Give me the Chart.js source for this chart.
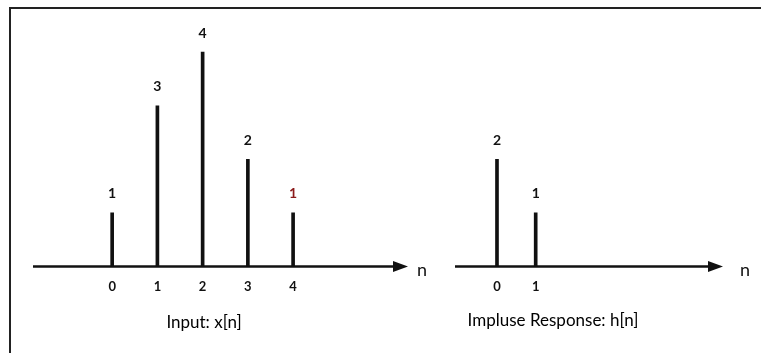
<!DOCTYPE html>
<html>
<head>
<meta charset="utf-8">
<script src="https://cdn.jsdelivr.net/npm/chart.js@4/dist/chart.umd.min.js"></script>
<style>
  body { margin: 0; background: #fff; }
  #wrap { position: relative; width: 761px; height: 353px; overflow: hidden; }
  #frame { position: absolute; left: 9px; top: 7px; width: 800px; height: 400px;
           border-top: 2px solid #222; border-left: 2px solid #222; }
  canvas { position: absolute; top: 0; }
  .caption { position: absolute; font-family: Lato, sans-serif; font-size: 17px;
             color: #000; transform: translateX(-50%); white-space: nowrap; }
</style>
</head>
<body>
<div id="wrap">
  <div id="frame"></div>
  <canvas id="inputChart" width="440" height="353" style="left:0"></canvas>
  <canvas id="impulseChart" width="321" height="353" style="left:440px"></canvas>
  <div class="caption" style="left:204px; top:311px">Input: x[n]</div>
  <div class="caption" style="left:553px; top:309px">Impluse Response: h[n]</div>
</div>
<script>
// input signal x[n]
const inputN = [0, 1, 2, 3, 4];
const inputValues = [1, 3, 4, 2, 1];
const inputLabelColors = ["#111", "#111", "#111", "#111", "#8b1a1a"];

// impulse response h[n]
const impulseN = [0, 1];
const impulseValues = [2, 1];
const impulseLabelColors = ["#111", "#111"];

// draws the n-axis with an arrow, the "n" label and the value above each stem
const stemPlugin = {
    id: "stems",
    beforeDatasetsDraw(chart) {
        const { ctx, chartArea } = chart;
        const y0 = chart.scales.y.getPixelForValue(0);
        ctx.save();
        ctx.strokeStyle = "#111";
        ctx.fillStyle = "#111";
        ctx.lineWidth = 2.5;
        ctx.beginPath();
        ctx.moveTo(chartArea.left, y0);
        ctx.lineTo(chartArea.right - 10, y0);
        ctx.stroke();
        ctx.beginPath();
        ctx.moveTo(chartArea.right, y0);
        ctx.lineTo(chartArea.right - 15, y0 - 5.5);
        ctx.lineTo(chartArea.right - 15, y0 + 5.5);
        ctx.closePath();
        ctx.fill();
        ctx.font = "18px Lato, sans-serif";
        ctx.textAlign = "center";
        ctx.textBaseline = "middle";
        ctx.fillText("n", chartArea.right + chart.options.plugins.stems.nGap, y0 + 4);
        ctx.restore();
    },
    afterDatasetsDraw(chart) {
        const { ctx } = chart;
        const opts = chart.options.plugins.stems;
        const meta = chart.getDatasetMeta(0);
        ctx.save();
        ctx.font = "bold 14px Lato, sans-serif";
        ctx.textAlign = "center";
        ctx.textBaseline = "middle";
        meta.data.forEach((bar, i) => {
            ctx.fillStyle = opts.colors[i];
            ctx.fillText(String(chart.data.datasets[0].data[i].y), bar.x, bar.y - 19);
        });
        ctx.restore();
    }
};

function stemChart(id, nValues, values, colors, xMin, xMax, padding, nGap) {
    const ctx = document.getElementById(id).getContext("2d");
    return new Chart(ctx, {
        type: "bar",
        data: {
            datasets: [{
                data: nValues.map((n, i) => ({ x: n, y: values[i] })),
                backgroundColor: "#111",
                borderWidth: 0,
                barThickness: 3,
            }],
        },
        options: {
            responsive: false,
            animation: false,
            layout: { padding: padding },
            plugins: {
                legend: { display: false },
                tooltip: { enabled: false },
                stems: { colors: colors, nGap: nGap },
            },
            scales: {
                x: {
                    type: "linear",
                    min: xMin,
                    max: xMax,
                    offset: false,
                    grid: { display: false, drawTicks: false },
                    border: { display: false },
                    afterBuildTicks: (axis) => {
                        axis.ticks = nValues.map((v) => ({ value: v }));
                    },
                    ticks: {
                        autoSkip: false,
                        padding: 13,
                        color: "#111",
                        font: { family: "Lato, sans-serif", size: 13, weight: "bold" },
                        callback: (v) => String(v),
                    },
                },
                y: {
                    display: false,
                    min: 0,
                    max: 4.9,
                },
            },
        },
        plugins: [stemPlugin],
    });
}

stemChart("inputChart", inputN, inputValues, inputLabelColors, -1.75, 6.54,
    { left: 33, right: 32, top: 4, bottom: 45 }, 14);
stemChart("impulseChart", impulseN, impulseValues, impulseLabelColors, -1.085, 5.84,
    { left: 15, right: 38, top: 4, bottom: 45 }, 22);
</script>
</body>
</html>
